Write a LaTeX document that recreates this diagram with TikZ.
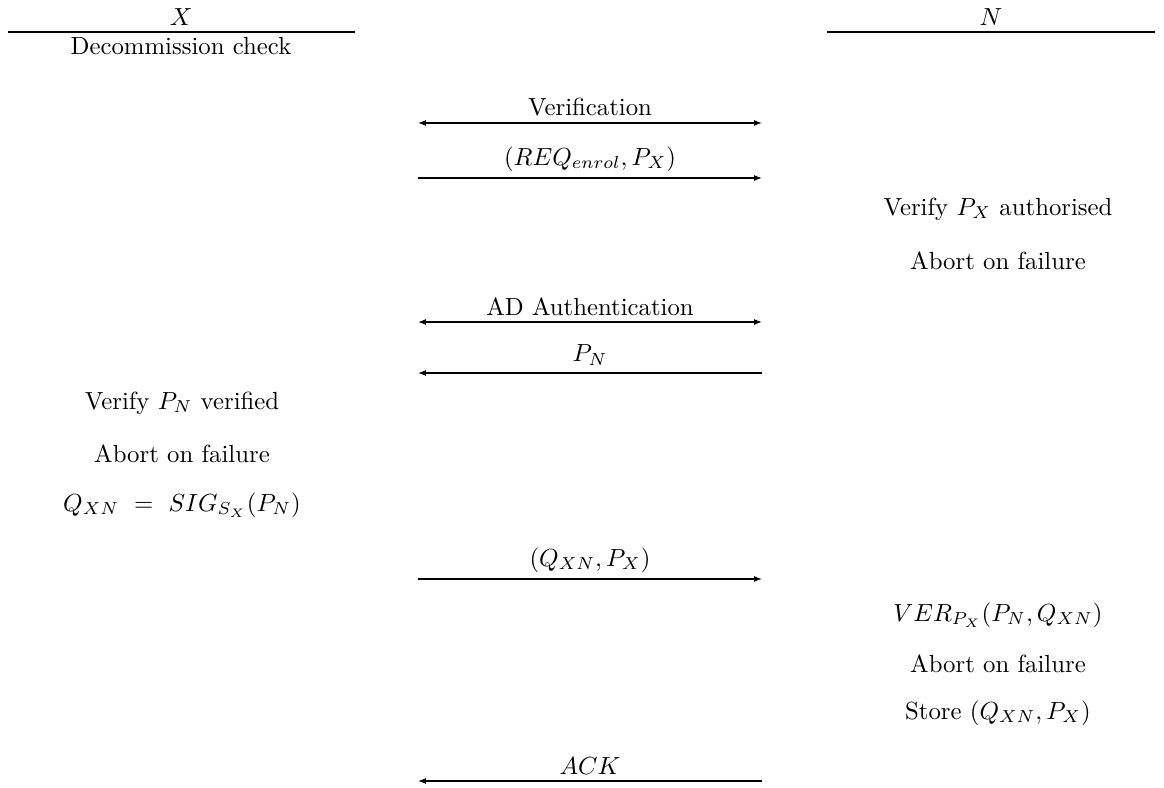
\documentclass[tikz,border=0pt]{standalone}
\usetikzlibrary{arrows.meta}
\begin{document}
\begin{tikzpicture}[x=0.4039pt,y=-0.4039pt,
  lbl/.style={inner sep=0pt,anchor=center},
  msg/.style={line width=0.45pt,-{Latex[length=3.2pt,width=2.4pt]}},
  bmsg/.style={line width=0.45pt,{Latex[length=3.2pt,width=2.4pt]}-{Latex[length=3.2pt,width=2.4pt]}},
  rule/.style={line width=0.45pt}]
\useasboundingbox (0,0) rectangle (1164,787);
% party headers
\node[lbl] (X) at (181,17) {$X$};
\node[lbl] (N) at (991,17) {$N$};
\coordinate (xl) at (8,32); \coordinate (xr) at (355,32);
\coordinate (nl) at (827,32); \coordinate (nr) at (1155,32);
\draw[rule] (xl) -- (xr);
\draw[rule] (nl) -- (nr);
\node[lbl] (dc) at (181,46) {Decommission check};
% messages
\node[lbl] (m1) at (590,107) {Verification};
\coordinate (m1l) at (418,123); \coordinate (m1r) at (762,123);
\draw[bmsg] (m1l) -- (m1r);
\node[lbl] (m2) at (590,159) {$(REQ_{enrol},P_X)$};
\coordinate (m2l) at (418,178); \coordinate (m2r) at (762,178);
\draw[msg] (m2l) -- (m2r);
\node[lbl] (r1) at (998,209) {Verify $P_X$ authorised};
\node[lbl] (r2) at (998,261) {Abort on failure};
\node[lbl] (m3) at (590,307) {AD Authentication};
\coordinate (m3l) at (418,322); \coordinate (m3r) at (762,322);
\draw[bmsg] (m3l) -- (m3r);
\node[lbl] (m4) at (590,355) {$P_N$};
\coordinate (m4l) at (418,373); \coordinate (m4r) at (762,373);
\draw[msg] (m4r) -- (m4l);
\node[lbl] (l1) at (182,403) {Verify $P_N$ verified};
\node[lbl] (l2) at (182,454) {Abort on failure};
\node[lbl] (l3) at (182,505) {$Q_{XN}\ =\ SIG_{S_X}(P_N)$};
\node[lbl] (m5) at (590,560) {$(Q_{XN},P_X)$};
\coordinate (m5l) at (418,579); \coordinate (m5r) at (762,579);
\draw[msg] (m5l) -- (m5r);
\node[lbl] (r3) at (998,615) {$VER_{P_X}(P_N,Q_{XN})$};
\node[lbl] (r4) at (998,664) {Abort on failure};
\node[lbl] (r5) at (998,713) {Store $(Q_{XN},P_X)$};
\node[lbl] (m6) at (590,766) {$ACK$};
\coordinate (m6l) at (418,781); \coordinate (m6r) at (762,781);
\draw[msg] (m6r) -- (m6l);
\end{tikzpicture}
\end{document}
